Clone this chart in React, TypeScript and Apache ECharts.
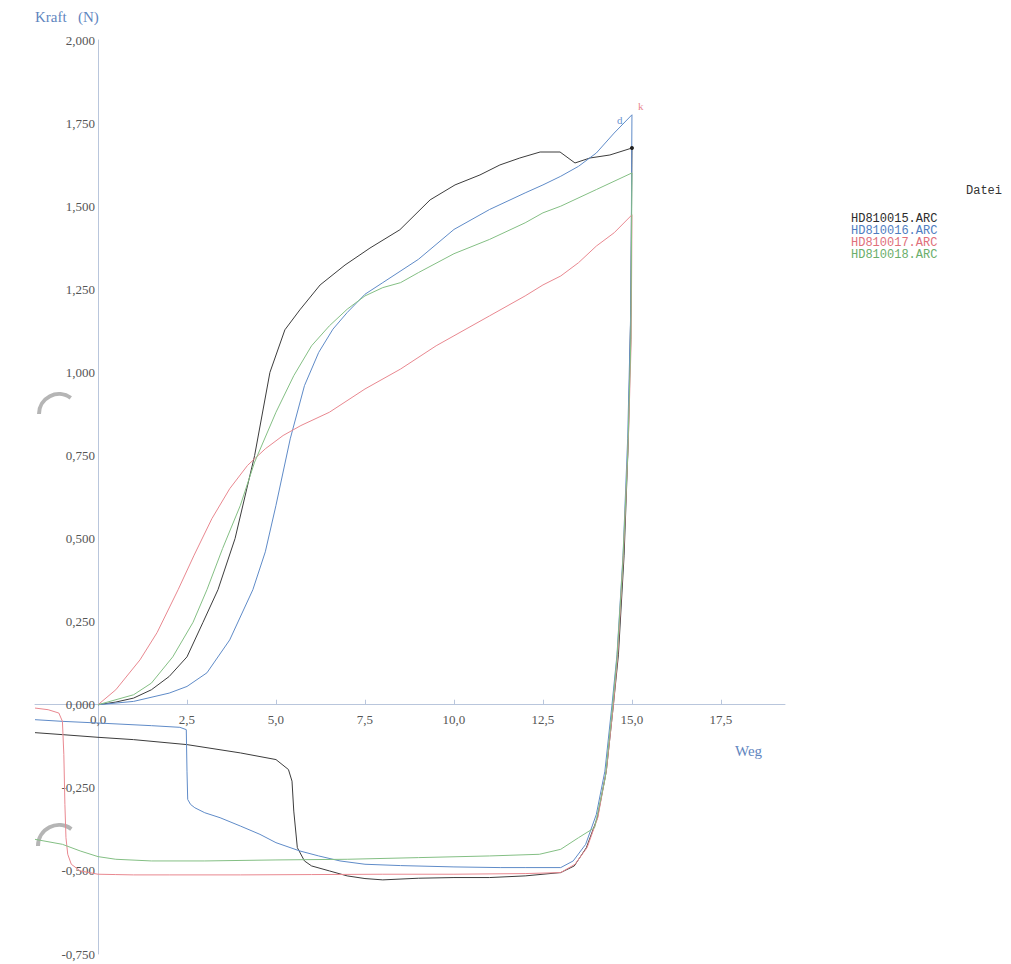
import React, { useEffect, useRef } from "react";
import * as echarts from "echarts";

// ---- Data (Weg in mm, Kraft in N) ----
const xTicks = [0, 2.5, 5, 7.5, 10, 12.5, 15, 17.5];

const legendNames = ["HD810015.ARC", "HD810016.ARC", "HD810017.ARC", "HD810018.ARC"];

// HD810015 (black)
const weg15 = [
  0, 0.5, 1.0, 1.5, 2.0, 2.5, 2.95, 3.37, 3.85, 4.4, 4.83, 5.25, 5.67, 6.24, 6.94, 7.64, 8.48, 9.33, 10.03, 10.73, 11.29, 11.85, 12.42, 12.98, 13.4, 13.82, 14.38, 15.0,
  14.97, 14.9, 14.78, 14.62, 14.48, 14.28, 14.03, 13.72, 13.38, 13.0,
  12.0, 11.0, 10.0, 9.0, 8.0, 7.5, 7.0, 6.5, 6.0, 5.8, 5.6, 5.5, 5.45, 5.35, 5.0, 4.0, 2.5, 1.0, 0, -1.0, -1.77,
];
const kraft15 = [
  0, 0.008, 0.02, 0.045, 0.085, 0.144, 0.248, 0.346, 0.5, 0.75, 1.0, 1.128, 1.188, 1.263, 1.323, 1.374, 1.429, 1.519, 1.564, 1.594, 1.624, 1.645, 1.663, 1.663, 1.63, 1.645, 1.654, 1.675,
  1.2, 0.8, 0.45, 0.15, 0.0, -0.2, -0.34, -0.43, -0.485, -0.505,
  -0.515, -0.52, -0.52, -0.522, -0.527, -0.523, -0.515, -0.5, -0.485, -0.47, -0.43, -0.32, -0.23, -0.195, -0.165, -0.145, -0.12, -0.105, -0.098, -0.09, -0.084,
];

// HD810016 (blue)
const weg16 = [
  0, 1.0, 2.0, 2.5, 3.06, 3.7, 4.35, 4.7, 5.0, 5.4, 5.8, 6.2, 6.6, 7.0, 7.5, 8.0, 9.0, 10.0, 11.0, 12.0, 12.5, 13.0, 13.5, 14.0, 14.5, 15.0,
  14.97, 14.88, 14.75, 14.58, 14.44, 14.24, 14.0, 13.7, 13.35, 13.0,
  12.0, 11.3, 10.0, 8.5, 7.5, 6.8, 6.2, 5.67, 5.0, 4.55, 4.0, 3.43, 3.0, 2.72, 2.6, 2.52, 2.5, 2.48, 2.3, 1.5, 0, -1.0, -1.77,
];
const kraft16 = [
  0, 0.01, 0.035, 0.055, 0.096, 0.195, 0.346, 0.46, 0.6, 0.8, 0.96, 1.06, 1.13, 1.18, 1.235, 1.27, 1.34, 1.43, 1.49, 1.54, 1.564, 1.59, 1.62, 1.66, 1.72, 1.775,
  1.2, 0.8, 0.45, 0.15, 0.0, -0.2, -0.33, -0.42, -0.47, -0.49,
  -0.49, -0.49, -0.488, -0.484, -0.48, -0.47, -0.455, -0.44, -0.415, -0.39, -0.365, -0.34, -0.325, -0.31, -0.3, -0.285, -0.2, -0.075, -0.068, -0.063, -0.055, -0.05, -0.045,
];

// HD810017 (red)
const weg17 = [
  0, 0.5, 1.18, 1.66, 2.25, 2.7, 3.2, 3.7, 4.2, 4.7, 5.2, 5.7, 6.5, 7.5, 8.5, 9.5, 10.0, 11.0, 12.0, 12.5, 13.0, 13.5, 14.0, 14.5, 15.0,
  14.98, 14.9, 14.76, 14.6, 14.48, 14.28, 14.04, 13.74, 13.4, 13.0,
  12, 10, 8, 6, 4, 2, 1, 0.5, 0, -0.5, -0.75, -0.85, -0.9, -0.93, -0.96, -1.0, -1.1, -1.4, -1.77,
];
const kraft17 = [
  0, 0.045, 0.135, 0.217, 0.346, 0.45, 0.56, 0.65, 0.72, 0.77, 0.81, 0.84, 0.88, 0.95, 1.01, 1.08, 1.11, 1.17, 1.23, 1.263, 1.29, 1.33, 1.38, 1.42, 1.474,
  1.1, 0.8, 0.45, 0.15, 0.0, -0.2, -0.34, -0.43, -0.48, -0.505,
  -0.508, -0.51, -0.51, -0.511, -0.512, -0.512, -0.512, -0.511, -0.51, -0.5, -0.48, -0.45, -0.4, -0.3, -0.15, -0.05, -0.025, -0.015, -0.01,
];

// HD810018 (green)
const weg18 = [
  0, 1.0, 1.5, 2.1, 2.67, 3.06, 3.5, 4.0, 4.4, 5.0, 5.5, 6.0, 6.5, 7.0, 7.5, 8.0, 8.5, 9.0, 10.0, 11.0, 12.0, 12.5, 13.0, 14.0, 15.0,
  14.97, 14.88, 14.74, 14.58, 14.46, 14.25, 13.95, 13.5, 13.0, 12.4,
  11, 9, 7, 5, 3, 1.5, 0.5, 0, -0.5, -1.0, -1.77,
];
const kraft18 = [
  0, 0.03, 0.065, 0.144, 0.248, 0.346, 0.47, 0.6, 0.73, 0.88, 0.99, 1.08, 1.14, 1.19, 1.23, 1.255, 1.27, 1.3, 1.357, 1.4, 1.45, 1.48, 1.5, 1.55, 1.6,
  1.1, 0.75, 0.42, 0.14, 0.0, -0.22, -0.37, -0.4, -0.435, -0.45,
  -0.455, -0.46, -0.465, -0.467, -0.47, -0.47, -0.465, -0.457, -0.44, -0.42, -0.405,
];

const lineColors = ["#3c3c3c", "#5f8bc8", "#e98890", "#84bf84"];
const textColors = ["#2c2c2c", "#4f7dbf", "#e06f7a", "#6aae6a"];

const zip = (xs: number[], ys: number[]) => xs.map((x, i) => [x, ys[i]]);

const X_MIN = -1.77;
const X_MAX = 19.3;
const Y_MIN = -0.75;
const Y_MAX = 2.0;
const GRID = { left: 35, right: 226, top: 40, bottom: 10 };
const W = 1011;
const H = 964;

export default function App() {
  const ref = useRef<HTMLDivElement>(null);

  useEffect(() => {
    if (!ref.current) return;
    const chart = echarts.init(ref.current, undefined, { renderer: "svg" });
    const allData = [zip(weg15, kraft15), zip(weg16, kraft16), zip(weg17, kraft17), zip(weg18, kraft18)];
    const serif = "'Liberation Serif', 'DejaVu Serif', serif";
    const mono = "'Liberation Mono', 'DejaVu Sans Mono', monospace";

    // shift the axes so they cross at the origin (labels included)
    const gridW = W - GRID.left - GRID.right;
    const gridH = H - GRID.top - GRID.bottom;
    const yAxisOffset = -((0 - X_MIN) / (X_MAX - X_MIN)) * gridW;
    const xAxisOffset = -((0 - Y_MIN) / (Y_MAX - Y_MIN)) * gridH;

    chart.setOption({
      animation: false,
      backgroundColor: "#ffffff",
      grid: { ...GRID, containLabel: false },
      xAxis: {
        type: "value",
        min: X_MIN,
        max: X_MAX,
        position: "bottom",
        offset: xAxisOffset,
        axisLine: { onZero: false, lineStyle: { color: "#b9c6dc", width: 1 } },
        axisTick: { show: true, inside: true, length: 5, customValues: xTicks, lineStyle: { color: "#b9c6dc" } },
        axisLabel: {
          customValues: xTicks,
          formatter: (v: number) => v.toFixed(1).replace(".", ","),
          color: "#555",
          fontFamily: serif,
          fontSize: 13,
          margin: 8,
        },
        splitLine: { show: false },
      },
      yAxis: {
        type: "value",
        min: Y_MIN,
        max: Y_MAX,
        interval: 0.25,
        position: "left",
        offset: yAxisOffset,
        axisLine: { onZero: false, lineStyle: { color: "#b9c6dc", width: 1 } },
        axisTick: { show: false },
        axisLabel: {
          formatter: (v: number) => v.toFixed(3).replace(".", ","),
          color: "#555",
          fontFamily: serif,
          fontSize: 13,
          margin: 3,
        },
        splitLine: { show: false },
      },
      series: allData.map((d, i) => ({
        name: legendNames[i],
        type: "line",
        data: d,
        showSymbol: false,
        symbol: "none",
        lineStyle: { color: lineColors[i], width: 1 },
        itemStyle: { color: lineColors[i] },
        z: 3,
        markPoint:
          i === 0
            ? {
                symbol: "circle",
                symbolSize: 4,
                itemStyle: { color: "#222" },
                label: { show: false },
                data: [{ coord: [15.0, 1.675] }],
              }
            : i === 1
            ? {
                symbol: "circle",
                symbolSize: 1,
                itemStyle: { color: "rgba(0,0,0,0)" },
                label: { show: true, formatter: "d", color: "#6a93cf", fontSize: 11, fontFamily: serif, position: "inside" },
                data: [{ coord: [14.66, 1.76] }],
              }
            : i === 2
            ? {
                symbol: "circle",
                symbolSize: 1,
                itemStyle: { color: "rgba(0,0,0,0)" },
                label: { show: true, formatter: "k", color: "#e98890", fontSize: 11, fontFamily: serif, position: "inside" },
                data: [{ coord: [15.25, 1.8] }],
              }
            : undefined,
      })),
      graphic: [
        {
          type: "text",
          left: 35,
          top: 9,
          style: { text: "Kraft   (N)", fill: "#5f86c0", font: `15px ${serif}` },
        },
        {
          type: "text",
          left: 735,
          top: 743,
          style: { text: "Weg", fill: "#5f86c0", font: `15px ${serif}` },
        },
        {
          type: "text",
          left: 966,
          top: 185,
          style: { text: "Datei", fill: "#333", font: `12px ${mono}` },
        },
        ...legendNames.map((n, i) => ({
          type: "text",
          left: 851,
          top: 213 + i * 12,
          style: { text: n, fill: textColors[i], font: `12px ${mono}` },
        })),
        {
          type: "arc",
          shape: { cx: 59, cy: 414, r: 20, startAngle: Math.PI * 1.0, endAngle: Math.PI * 1.7 },
          style: { stroke: "#b5b5b5", lineWidth: 4, fill: "none" },
        },
        {
          type: "arc",
          shape: { cx: 59, cy: 846, r: 21, startAngle: Math.PI * 1.0, endAngle: Math.PI * 1.7 },
          style: { stroke: "#b5b5b5", lineWidth: 4, fill: "none" },
        },
      ],
    });

    return () => chart.dispose();
  }, []);

  return (
    <div
      ref={ref}
      style={{ position: "fixed", left: 0, top: 0, width: W, height: H, background: "#fff" }}
    />
  );
}
